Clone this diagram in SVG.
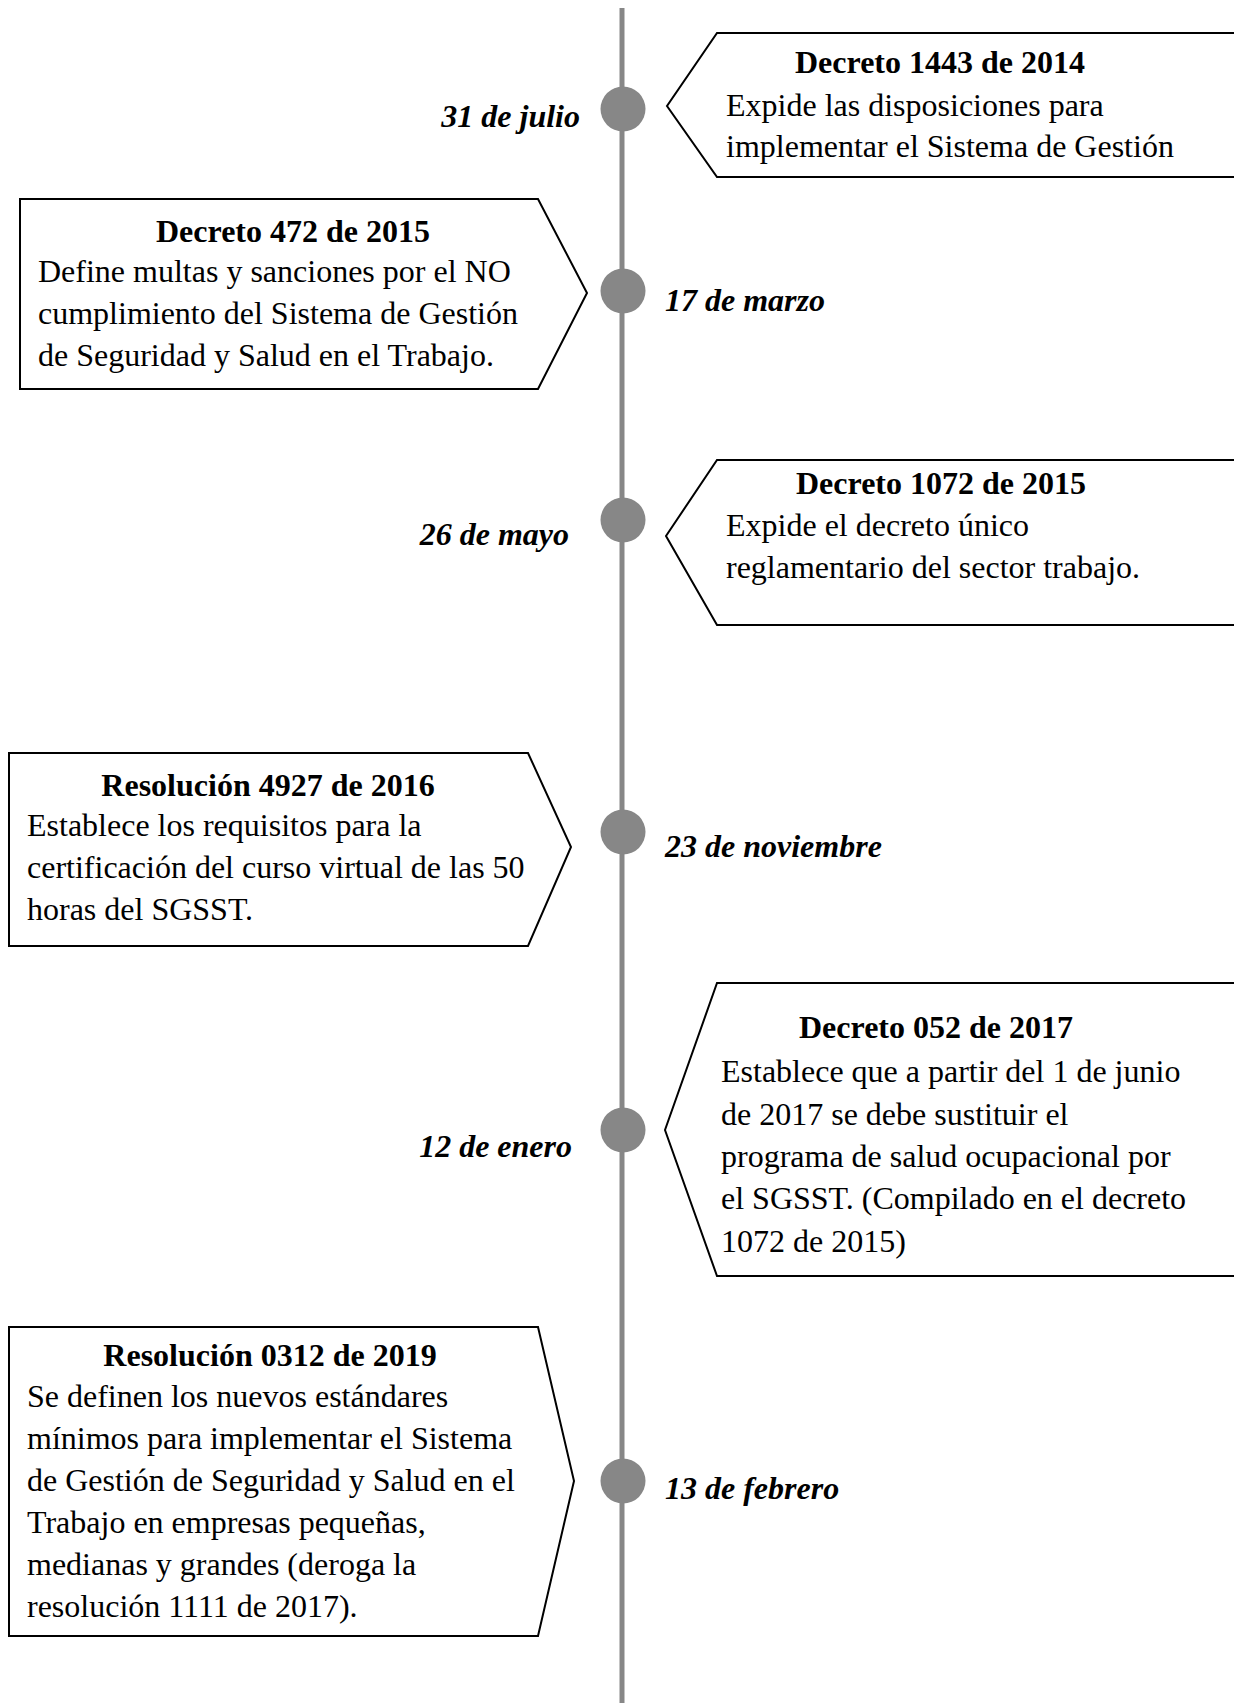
<svg xmlns="http://www.w3.org/2000/svg" width="1234" height="1703" viewBox="0 0 1234 1703">
<style>
.box{fill:#fff;stroke:#000;stroke-width:2}
.dot{fill:#878787}
.t{font-family:"Liberation Serif","Times New Roman",serif;font-size:32px;font-weight:bold;text-anchor:middle;fill:#000}
.b{font-family:"Liberation Serif","Times New Roman",serif;font-size:32px;fill:#000}
.d{font-family:"Liberation Serif","Times New Roman",serif;font-size:32px;font-weight:bold;font-style:italic;fill:#000}
.e{text-anchor:end}
</style>
<rect width="1234" height="1703" fill="#fff"/>
<g id="connectors">
<line x1="622" y1="8" x2="622" y2="1703" stroke="#878787" stroke-width="5"/>
</g>
<g id="node1">
<polygon class="box" points="1240,33 717,33 667,106 717,177 1240,177"/>
<text class="t" x="940" y="73">Decreto 1443 de 2014</text>
<text class="b" x="726" y="116">Expide las disposiciones para</text>
<text class="b" x="726" y="157">implementar el Sistema de Gestión</text>
</g>
<g id="date1"><circle class="dot" cx="623" cy="109" r="22.5"/><text class="d e" x="580" y="127">31 de julio</text></g>
<g id="node2">
<polygon class="box" points="20,199 538,199 587,293 538,389 20,389"/>
<text class="t" x="293" y="242">Decreto 472 de 2015</text>
<text class="b" x="38" y="282">Define multas y sanciones por el NO</text>
<text class="b" x="38" y="324">cumplimiento del Sistema de Gestión</text>
<text class="b" x="38" y="366">de Seguridad y Salud en el Trabajo.</text>
</g>
<g id="date2"><circle class="dot" cx="623" cy="291" r="22.5"/><text class="d" x="665" y="311">17 de marzo</text></g>
<g id="node3">
<polygon class="box" points="1240,460 717,460 666,536 717,625 1240,625"/>
<text class="t" x="941" y="494">Decreto 1072 de 2015</text>
<text class="b" x="726" y="536">Expide el decreto único</text>
<text class="b" x="726" y="578">reglamentario del sector trabajo.</text>
</g>
<g id="date3"><circle class="dot" cx="623" cy="520" r="22.5"/><text class="d e" x="569" y="545">26 de mayo</text></g>
<g id="node4">
<polygon class="box" points="9,753 528,753 571,847 528,946 9,946"/>
<text class="t" x="268" y="796">Resolución 4927 de 2016</text>
<text class="b" x="27" y="836">Establece los requisitos para la</text>
<text class="b" x="27" y="878">certificación del curso virtual de las 50</text>
<text class="b" x="27" y="920">horas del SGSST.</text>
</g>
<g id="date4"><circle class="dot" cx="623" cy="832" r="22.5"/><text class="d" x="665" y="857">23 de noviembre</text></g>
<g id="node5">
<polygon class="box" points="1240,983 717,983 665,1130 717,1276 1240,1276"/>
<text class="t" x="936" y="1038">Decreto 052 de 2017</text>
<text class="b" x="721" y="1082">Establece que a partir del 1 de junio</text>
<text class="b" x="721" y="1125">de 2017 se debe sustituir el</text>
<text class="b" x="721" y="1167">programa de salud ocupacional por</text>
<text class="b" x="721" y="1209">el SGSST. (Compilado en el decreto</text>
<text class="b" x="721" y="1252">1072 de 2015)</text>
</g>
<g id="date5"><circle class="dot" cx="623" cy="1130" r="22.5"/><text class="d e" x="572" y="1157">12 de enero</text></g>
<g id="node6">
<polygon class="box" points="9,1327 538,1327 574,1481 538,1636 9,1636"/>
<text class="t" x="270" y="1366">Resolución 0312 de 2019</text>
<text class="b" x="27" y="1407">Se definen los nuevos estándares</text>
<text class="b" x="27" y="1449">mínimos para implementar el Sistema</text>
<text class="b" x="27" y="1491">de Gestión de Seguridad y Salud en el</text>
<text class="b" x="27" y="1533">Trabajo en empresas pequeñas,</text>
<text class="b" x="27" y="1575">medianas y grandes (deroga la</text>
<text class="b" x="27" y="1617">resolución 1111 de 2017).</text>
</g>
<g id="date6"><circle class="dot" cx="623" cy="1481" r="22.5"/><text class="d" x="665" y="1499">13 de febrero</text></g>
</svg>
